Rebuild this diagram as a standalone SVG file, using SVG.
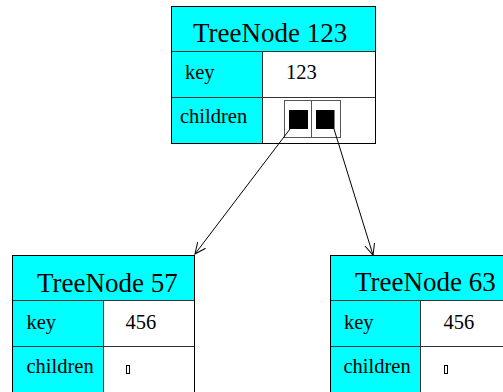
<svg xmlns="http://www.w3.org/2000/svg" width="503" height="392" viewBox="0 0 503 392">
<style>
.cy{fill:#00ffff;stroke:#333;stroke-width:1}
.wh{fill:#ffffff;stroke:#333;stroke-width:1}
.out{fill:none;stroke:#000;stroke-width:1}
.hd{font-family:"Liberation Serif",serif;font-size:27px;fill:#000}
.tx{font-family:"Liberation Serif",serif;font-size:20.5px;fill:#000}
.ib{fill:#fff;stroke:#555;stroke-width:1}
.sq{fill:#000}
.tofu{fill:none;stroke:#000;stroke-width:1}
.edge{fill:none;stroke:#000;stroke-width:1}
</style>
<defs>
<marker id="arr" markerUnits="userSpaceOnUse" markerWidth="14" markerHeight="12" refX="11" refY="6" orient="auto">
<path d="M0,1 L11,6 L0,11" fill="none" stroke="#000" stroke-width="1"/>
</marker>
</defs>
<g id="node123">
<rect class="cy" x="171.5" y="6.5" width="204" height="45"/>
<rect class="cy" x="171.5" y="51.5" width="91" height="46"/>
<rect class="wh" x="262.5" y="51.5" width="113" height="46"/>
<rect class="cy" x="171.5" y="97.5" width="91" height="46"/>
<rect class="wh" x="262.5" y="97.5" width="113" height="46"/>
<rect class="out" x="171.5" y="6.5" width="204" height="137"/>
<text class="hd" x="193" y="42">TreeNode 123</text>
<text class="tx" x="185" y="79">key</text>
<text class="tx" x="286" y="79">123</text>
<text class="tx" x="180" y="123">children</text>
<rect class="ib" x="284.5" y="100.5" width="27" height="37"/>
<rect class="ib" x="311.5" y="100.5" width="29" height="37"/>
<rect class="sq" x="289" y="110" width="19" height="19"/>
<rect class="sq" x="316" y="110" width="18.5" height="19"/>
</g>
<g id="node57">
<rect class="cy" x="12.5" y="255.5" width="182" height="45"/>
<rect class="cy" x="12.5" y="300.5" width="91" height="46"/>
<rect class="wh" x="103.5" y="300.5" width="91" height="46"/>
<rect class="cy" x="12.5" y="346.5" width="91" height="46"/>
<rect class="wh" x="103.5" y="346.5" width="91" height="46"/>
<rect class="out" x="12.5" y="255.5" width="182" height="137"/>
<text class="hd" x="37" y="291.5">TreeNode 57</text>
<text class="tx" x="26.5" y="329">key</text>
<text class="tx" x="125.5" y="329">456</text>
<text class="tx" x="26.5" y="373">children</text>
<rect class="tofu" x="126.5" y="365.5" width="3" height="8"/>
</g>
<g id="node63">
<rect class="cy" x="330.5" y="255.5" width="182" height="45"/>
<rect class="cy" x="330.5" y="300.5" width="90" height="46"/>
<rect class="wh" x="420.5" y="300.5" width="92" height="46"/>
<rect class="cy" x="330.5" y="346.5" width="90" height="46"/>
<rect class="wh" x="420.5" y="346.5" width="92" height="46"/>
<rect class="out" x="330.5" y="255.5" width="182" height="137"/>
<text class="hd" x="355" y="291">TreeNode 63</text>
<text class="tx" x="344" y="329">key</text>
<text class="tx" x="443.5" y="329">456</text>
<text class="tx" x="343.5" y="373">children</text>
<rect class="tofu" x="444.5" y="365.5" width="3" height="8"/>
</g>
<g id="connectors">
<path class="edge" d="M290,129 L195,254" marker-end="url(#arr)"/>
<path class="edge" d="M334,129 L373,255" marker-end="url(#arr)"/>
</g>
</svg>
